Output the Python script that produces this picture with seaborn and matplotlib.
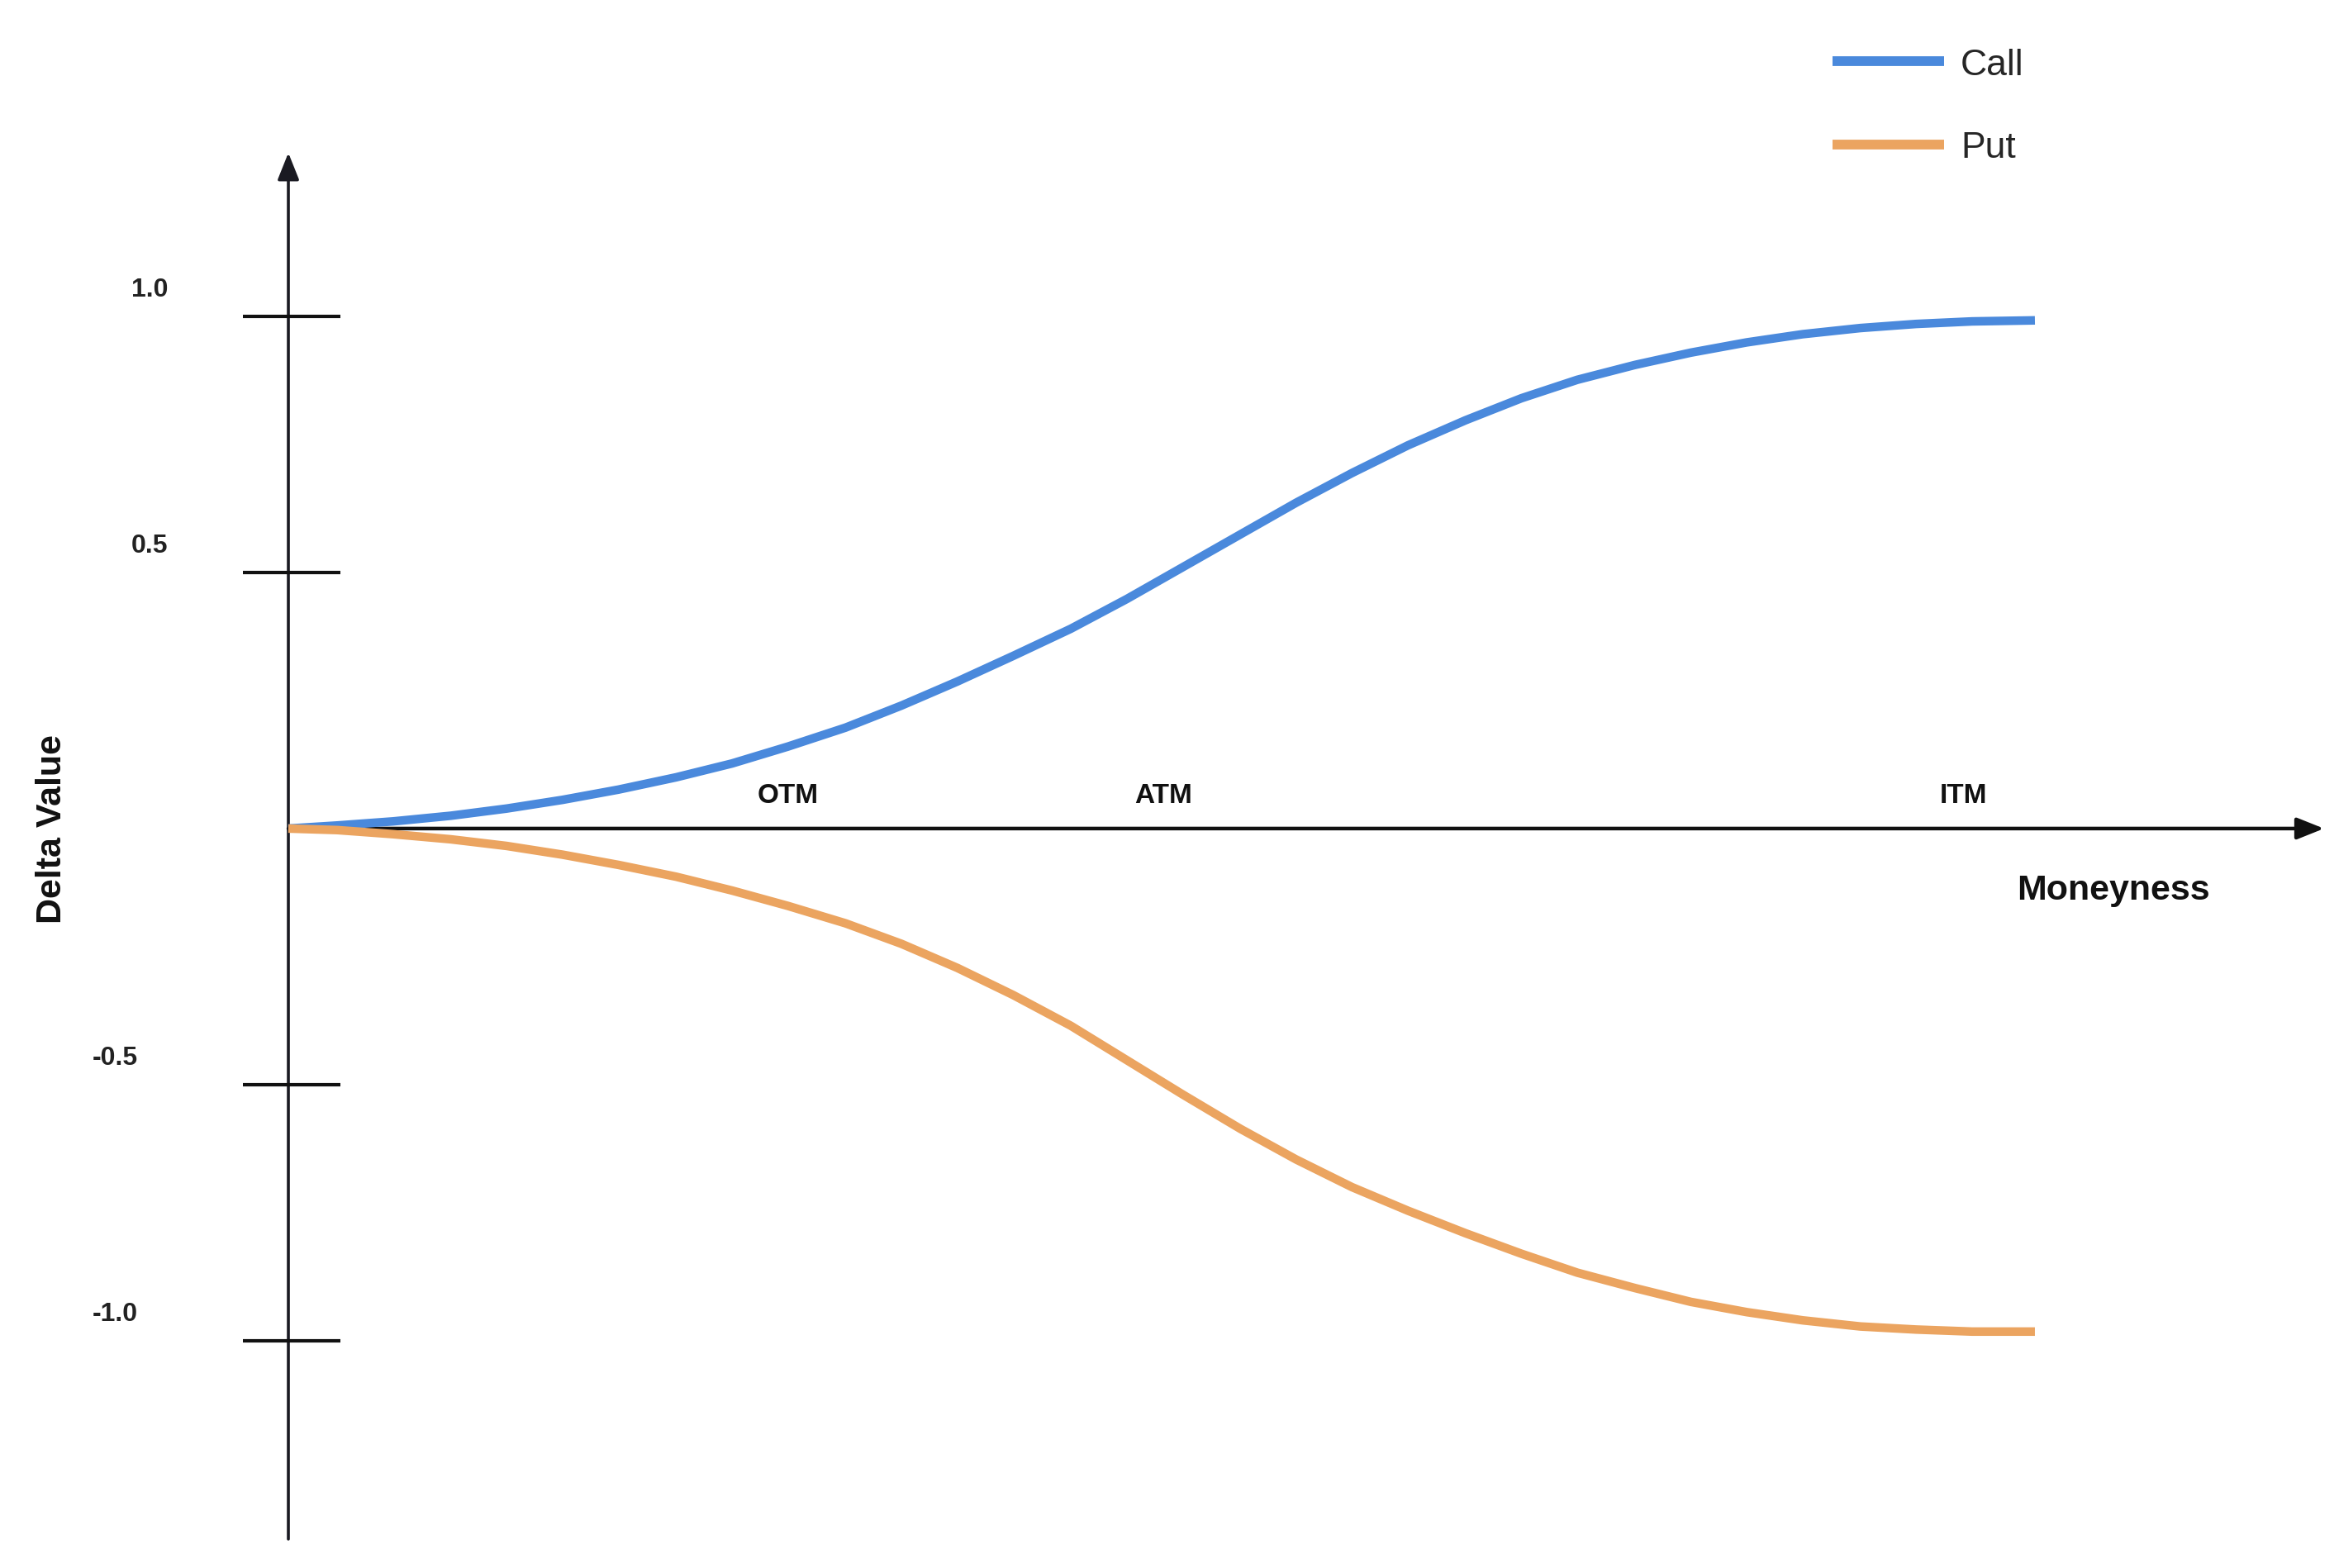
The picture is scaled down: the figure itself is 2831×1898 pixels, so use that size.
import matplotlib
matplotlib.use("Agg")
import matplotlib.pyplot as plt
import seaborn as sns
import pandas as pd

# Values (moneyness scaled 0..10)
moneyness = [0, 0.28, 0.60, 0.93, 1.25, 1.57, 1.89, 2.22, 2.54, 2.86, 3.19, 3.51,
             3.83, 4.15, 4.48, 4.80, 5.12, 5.45, 5.77, 6.09, 6.41, 6.74, 7.06, 7.38,
             7.71, 8.03, 8.35, 8.67, 9.00, 9.32, 9.64, 10.0]
call_delta = [0.0, 0.006, 0.014, 0.025, 0.039, 0.056, 0.076, 0.100, 0.127, 0.160, 0.197, 0.240,
              0.287, 0.337, 0.390, 0.448, 0.510, 0.574, 0.636, 0.694, 0.748, 0.797, 0.840, 0.876,
              0.905, 0.929, 0.949, 0.965, 0.977, 0.985, 0.990, 0.992]
put_delta = [0.0, -0.003, -0.011, -0.021, -0.034, -0.051, -0.071, -0.094, -0.121, -0.151, -0.185, -0.225,
             -0.272, -0.325, -0.385, -0.452, -0.519, -0.586, -0.646, -0.700, -0.746, -0.790, -0.830, -0.867,
             -0.897, -0.924, -0.944, -0.960, -0.972, -0.978, -0.982, -0.982]

tick_values = [1.0, 0.5, -0.5, -1.0]
tick_labels = ["1.0", "0.5", "-0.5", "-1.0"]

zone_labels = ["OTM", "ATM", "ITM"]
zone_x = [2.86, 5.01, 9.59]

series_names = ["Call", "Put"]
series_colors = ["#4a89dc", "#eba460"]


def main():
    df = pd.concat([
        pd.DataFrame({"Moneyness": moneyness, "Delta": call_delta, "Option": "Call"}),
        pd.DataFrame({"Moneyness": moneyness, "Delta": put_delta, "Option": "Put"}),
    ])

    sns.set_theme(style="white")
    plt.rcParams["font.family"] = ["Liberation Sans", "DejaVu Sans"]

    fig = plt.figure(figsize=(28.31, 18.99), dpi=100)
    ax = fig.add_axes([0, 0, 1, 1])
    ax.set_xlim(-1.651, 11.741)
    ax.set_ylim(-1.4435, 1.619)
    ax.axis("off")

    # hand drawn style axes with arrows
    ax.annotate("", xy=(11.655, 0), xytext=(0, 0),
                arrowprops=dict(arrowstyle="-|>,head_length=20,head_width=8",
                                mutation_scale=1, color="#111111", lw=3.2,
                                shrinkA=0, shrinkB=0), zorder=1)
    ax.annotate("", xy=(0, 1.319), xytext=(0, -1.387),
                arrowprops=dict(arrowstyle="-|>,head_length=20,head_width=8",
                                mutation_scale=1, color="#1a1a22", lw=2.6,
                                shrinkA=0, shrinkB=0), zorder=1)
    ax.hlines(tick_values, -0.26, 0.30, color="#111111", lw=3, zorder=1)

    for v, lab in zip(tick_values, tick_labels):
        xpos = -0.795 if v > 0 else -0.99
        ax.text(xpos, v + 0.053, lab, ha="center", va="center",
                fontsize=23, fontweight="bold", color="#222222")

    sns.lineplot(data=df, x="Moneyness", y="Delta", hue="Option",
                 hue_order=series_names, palette=series_colors,
                 linewidth=7.5, sort=False, estimator=None, ax=ax, zorder=3)
    for line in ax.get_lines():
        line.set_solid_capstyle("butt")
        line.set_solid_joinstyle("round")

    for lab, xv in zip(zone_labels, zone_x):
        ax.text(xv, 0.065, lab, ha="center", va="center",
                fontsize=24, fontweight="bold", color="#111111")

    ax.text(10.45, -0.119, "Moneyness", ha="center", va="center",
            fontsize=31, fontweight="bold", color="#111111")
    ax.text(-1.353, 0.0, "Delta Value", ha="center", va="center", rotation=90,
            fontsize=31, fontweight="bold", color="#111111")

    handles, labels = ax.get_legend_handles_labels()
    leg = ax.legend(handles, labels, loc="upper left",
                    bbox_to_anchor=(0.7835, 0.969), bbox_transform=fig.transFigure,
                    frameon=False, fontsize=32, handlelength=3.04,
                    handletextpad=0.45, labelspacing=1.34,
                    borderpad=0, borderaxespad=0)
    for h in leg.get_lines():
        h.set_linewidth(8.5)
        h.set_solid_capstyle("butt")

    fig.savefig("out.png", dpi=100)


if __name__ == "__main__":
    main()
